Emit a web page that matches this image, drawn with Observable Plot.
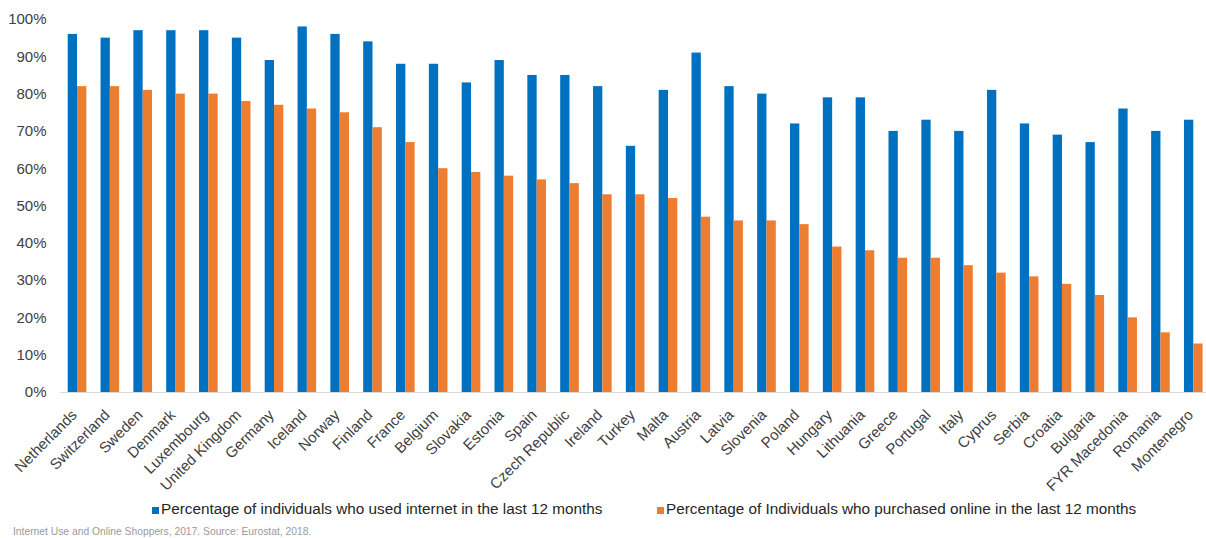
<!DOCTYPE html>
<html>
<head>
<meta charset="utf-8">
<script src="https://cdn.jsdelivr.net/npm/d3@7"></script>
<script src="https://cdn.jsdelivr.net/npm/@observablehq/plot@0.6"></script>
<style>
  html, body { margin: 0; padding: 0; background: #fff; }
  #wrap { position: relative; width: 1206px; height: 538px; overflow: hidden;
          font-family: "Liberation Sans", Arial, sans-serif; }
  #chart { position: absolute; left: 0; top: 0; }
  .legend-item { position: absolute; top: 501px; font-size: 15.3px; line-height: 15px;
                 color: #262626; white-space: nowrap; }
  .swatch { display: inline-block; width: 7.5px; height: 7.5px; margin-right: 2px; }
  #caption { position: absolute; left: 13px; top: 526.5px; font-size: 10.3px; line-height: 10px;
             color: #9a9a9a; white-space: nowrap; }
</style>
</head>
<body>
<div id="wrap">
  <div id="chart"></div>
  <div class="legend-item" style="left:151.5px"><span class="swatch" style="background:#0070C0"></span>Percentage of individuals who used internet in the last 12 months</div>
  <div class="legend-item" style="left:656.5px"><span class="swatch" style="background:#ED7D31"></span>Percentage of Individuals who purchased online in the last 12 months</div>
  <div id="caption">Internet Use and Online Shoppers, 2017. Source: Eurostat, 2018.</div>
</div>
<script>
// Countries, in the order shown
const countries = [
  "Netherlands", "Switzerland", "Sweden", "Denmark", "Luxembourg", "United Kingdom",
  "Germany", "Iceland", "Norway", "Finland", "France", "Belgium", "Slovakia", "Estonia",
  "Spain", "Czech Republic", "Ireland", "Turkey", "Malta", "Austria", "Latvia", "Slovenia",
  "Poland", "Hungary", "Lithuania", "Greece", "Portugal", "Italy", "Cyprus", "Serbia",
  "Croatia", "Bulgaria", "FYR Macedonia", "Romania", "Montenegro"
];

// % of individuals who used the internet in the last 12 months
const usedInternet = [
  96, 95, 97, 97, 97, 95, 89, 98, 96, 94, 88, 88, 83, 89, 85, 85, 82, 66, 81, 91, 82, 80,
  72, 79, 79, 70, 73, 70, 81, 72, 69, 67, 76, 70, 73
];

// % of individuals who purchased online in the last 12 months
const purchasedOnline = [
  82, 82, 81, 80, 80, 78, 77, 76, 75, 71, 67, 60, 59, 58, 57, 56, 53, 53, 52, 47, 46, 46,
  45, 39, 38, 36, 36, 34, 32, 31, 29, 26, 20, 16, 13
];

const yTicks = [0, 10, 20, 30, 40, 50, 60, 70, 80, 90, 100];

const rows = countries.map((country, i) => ({
  country,
  used: usedInternet[i],
  purchased: purchasedOnline[i]
}));

// Each country band holds two adjacent bars: half the band width each
const rangeX = [60.6, 1209.7];
const padInner = 0.433, padOuter = 0.2165;
const step = (rangeX[1] - rangeX[0]) / (countries.length - padInner + 2 * padOuter);
const halfBand = step * (1 - padInner) / 2;

const chart = Plot.plot({
  width: 1206,
  height: 538,
  marginTop: 19,
  marginBottom: 146,
  marginLeft: 60,
  marginRight: 0,
  style: { fontFamily: "Liberation Sans, Arial, sans-serif", color: "#404040", background: "transparent" },
  x: { domain: countries, range: rangeX, paddingInner: padInner, paddingOuter: padOuter, round: false, axis: null },
  y: { domain: [0, 100], axis: null },
  marks: [
    Plot.barY(rows, { x: "country", y: "used", fill: "#0070C0", insetRight: halfBand }),
    Plot.barY(rows, { x: "country", y: "purchased", fill: "#ED7D31", insetLeft: halfBand }),
    Plot.ruleY([0], { stroke: "#d9d9d9", strokeWidth: 1.2 }),
    Plot.axisY({
      ticks: yTicks,
      tickFormat: d => d + "%",
      tickSize: 0,
      tickPadding: 14,
      fontSize: 15,
      label: null
    }),
    Plot.axisX({
      tickRotate: -45,
      tickSize: 0,
      tickPadding: 14,
      dx: -3,
      dy: 6,
      fontSize: 15,
      label: null
    })
  ]
});

document.getElementById("chart").appendChild(chart);
</script>
</body>
</html>
